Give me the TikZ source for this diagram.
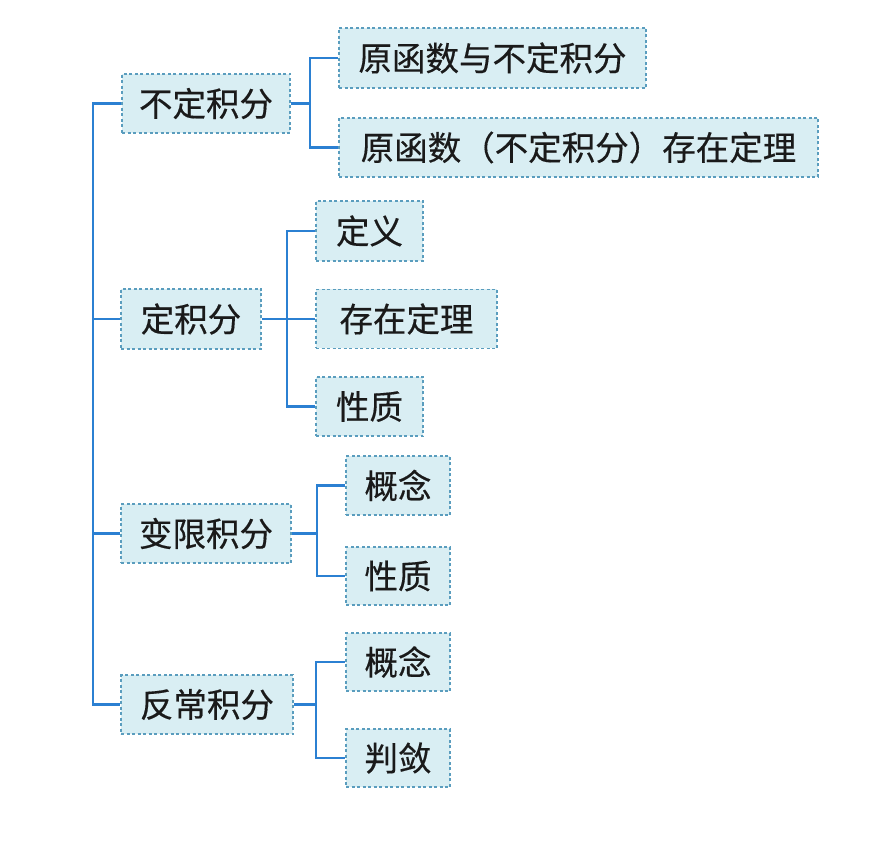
\documentclass[tikz,border=0pt]{standalone}
\usepackage{fontspec}
\newfontfamily\cjk[FakeBold=0.4]{Noto Sans CJK SC}
\definecolor{boxfill}{HTML}{D9EEF3}
\definecolor{boxline}{HTML}{5A9DBE}
\definecolor{conncol}{HTML}{2B80D2}
\definecolor{txt}{HTML}{1A1A1A}
\begin{document}
\begin{tikzpicture}[x=1pt,y=-1pt,
  bx/.style={draw=boxline, fill=boxfill, dash pattern=on 3pt off 2.5pt, line width=1.4pt,
    inner sep=0pt, font=\cjk\fontsize{33.5}{34}\selectfont, text=txt, anchor=center},
  conn/.style={draw=conncol, line width=2.9pt}]
\fill[white] (0,0) rectangle (876,850);
\useasboundingbox (0,0) rectangle (876,850);
% junctions
\coordinate (jA) at (310,103.5);
\coordinate (jB) at (287,319);
\coordinate (jC) at (317,533.5);
\coordinate (jD) at (316,704.5);
\coordinate (tA) at (93,103.5);
\coordinate (tB) at (93,319);
\coordinate (tC) at (93,533.5);
\coordinate (tD) at (93,704.5);
% level 1
\node[bx, minimum width=168pt, minimum height=59pt] (A) at (206,103.5) {不定积分};
\node[bx, minimum width=140pt, minimum height=60pt] (B) at (191,319) {定积分};
\node[bx, minimum width=170pt, minimum height=59pt] (C) at (206,533.5) {变限积分};
\node[bx, minimum width=172pt, minimum height=59pt] (D) at (207,704.5) {反常积分};
% level 2
\node[bx, minimum width=307pt, minimum height=60pt] (A1) at (492.5,58) {原函数与不定积分};
\node[bx, minimum width=479pt, minimum height=59pt] (A2) at (578.5,147.5) {原函数（不定积分）存在定理};
\node[bx, minimum width=107pt, minimum height=60pt] (B1) at (369.5,231) {定义};
\node[bx, minimum width=181pt, minimum height=59pt] (B2) at (406.5,319) {存在定理};
\node[bx, minimum width=107pt, minimum height=59pt] (B3) at (369.5,406.5) {性质};
\node[bx, minimum width=104pt, minimum height=59pt] (C1) at (398,485.5) {概念};
\node[bx, minimum width=104pt, minimum height=58pt] (C2) at (398,576) {性质};
\node[bx, minimum width=104pt, minimum height=58pt] (D1) at (398,662) {概念};
\node[bx, minimum width=104pt, minimum height=58pt] (D2) at (398,758) {判敛};
% trunk
\draw[conn] (A.west) -- (tA) -- (tD) -- (D.west);
\draw[conn] (tB) -- (B.west);
\draw[conn] (tC) -- (C.west);
% branches
\draw[conn] (A.east) -- (jA);
\draw[conn] (jA) |- (A1.west);
\draw[conn] (jA) |- (A2.west);
\draw[conn] (B.east) -- (B2.west);
\draw[conn] (jB) |- (B1.west);
\draw[conn] (jB) |- (B3.west);
\draw[conn] (C.east) -- (jC);
\draw[conn] (jC) |- (C1.west);
\draw[conn] (jC) |- (C2.west);
\draw[conn] (D.east) -- (jD);
\draw[conn] (jD) |- (D1.west);
\draw[conn] (jD) |- (D2.west);
\end{tikzpicture}
\end{document}
